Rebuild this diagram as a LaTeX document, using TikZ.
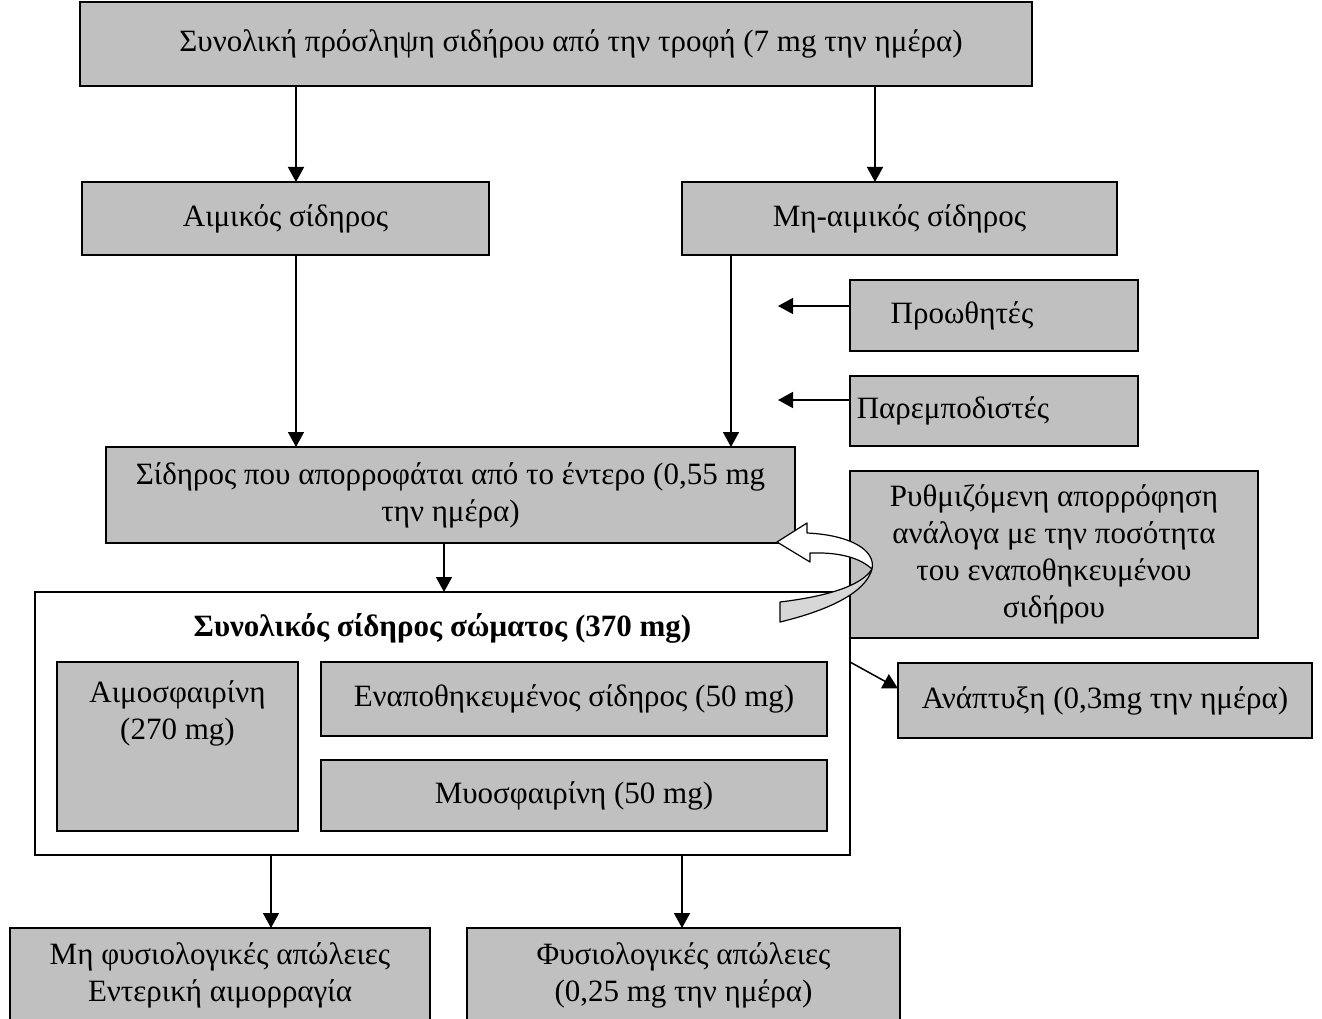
\documentclass[tikz,border=0pt]{standalone}
\usepackage{fontspec}
\setmainfont{Liberation Serif}
\usetikzlibrary{arrows.meta}
\definecolor{boxgray}{RGB}{192,192,192}
\definecolor{ribbongray}{RGB}{215,215,215}

\begin{document}
\begin{tikzpicture}[x=1pt,y=-1pt]
  \tikzset{BoxStyle/.style = {
    shape         = rectangle,
    draw          = black,
    fill          = boxgray,
    line width    = 2pt,
    text          = black,
    inner sep     = 3pt,
    outer sep     = 0pt,
    align         = center,
    font          = \fontsize{31}{37}\selectfont
    }
  }
  \tikzset{ArrowStyle/.style = {
    draw          = black,
    line width    = 1.5pt,
    -{Triangle[length=15pt,width=16pt]}
    }
  }
  \useasboundingbox (0,0) rectangle (1322,1019);

	\node[BoxStyle,minimum width=952pt,minimum height=84pt](Intake) at (556,44) {\hspace*{30pt}Συνολική πρόσληψη σιδήρου από την τροφή (7 mg την ημέρα)};
	\node[BoxStyle,minimum width=407pt,minimum height=73pt](Heme) at (285.5,218.5) {Αιμικός σίδηρος};
	\node[BoxStyle,minimum width=435pt,minimum height=73pt](NonHeme) at (899.5,218.5) {Μη-αιμικός σίδηρος};
	\node[BoxStyle,minimum width=288pt,minimum height=71pt](Prom) at (994,315.5) {\hspace*{-64pt}Προωθητές};
	\node[BoxStyle,minimum width=288pt,minimum height=70pt](Inhib) at (994,411) {\hspace*{-82pt}Παρεμποδιστές};
	\node[BoxStyle,minimum width=689pt,minimum height=96pt](Absorbed) at (450.5,495) {Σίδηρος που απορροφάται από το έντερο (0,55 mg\\την ημέρα)};
	\node[BoxStyle,minimum width=408pt,minimum height=167pt](Regul) at (1054,554.5) {Ρυθμιζόμενη απορρόφηση\\ανάλογα με την ποσότητα\\του εναποθηκευμένου\\σιδήρου};
	\node[BoxStyle,fill=white,minimum width=815pt,minimum height=263pt](Body) at (442.5,723.5) {};
	\node[BoxStyle,draw=none,fill=none,font=\fontsize{31}{37}\selectfont\bfseries](BodyTitle) at (442.5,628) {Συνολικός σίδηρος σώματος (370 mg)};
	\node[BoxStyle,minimum width=241pt,minimum height=169pt,
	      label={[BoxStyle,draw=none,fill=none,anchor=north,yshift=-16pt]north:Αιμοσφαιρίνη\\(270 mg)}](Hb) at (177.5,746.5) {};
	\node[BoxStyle,minimum width=506pt,minimum height=74pt](Stored) at (574,699) {Εναποθηκευμένος σίδηρος (50 mg)};
	\node[BoxStyle,minimum width=506pt,minimum height=71pt](Mb) at (574,795.5) {Μυοσφαιρίνη (50 mg)};
	\node[BoxStyle,minimum width=414pt,minimum height=75pt](Growth) at (1105,700.5) {Ανάπτυξη (0,3mg την ημέρα)};
	\node[BoxStyle,minimum width=420pt,minimum height=100pt,text depth=12pt](Abnormal) at (220,978) {Μη φυσιολογικές απώλειες\\Εντερική αιμορραγία};
	\node[BoxStyle,minimum width=433pt,minimum height=100pt,text depth=12pt](Normal) at (683.5,978) {Φυσιολογικές απώλειες\\(0,25 mg την ημέρα)};

	\coordinate (hemeX) at (296,0);
	\coordinate (nonhemeX) at (875,0);
	\coordinate (absX) at (731,0);
	\coordinate (bodyX) at (444,0);
	\coordinate (abnX) at (271,0);
	\coordinate (norX) at (682,0);
	\coordinate (promEnd) at (778,306);
	\coordinate (inhibEnd) at (778,400);

	\draw[ArrowStyle](Intake.south -| hemeX) to (Heme.north -| hemeX);
	\draw[ArrowStyle](Intake.south -| nonhemeX) to (NonHeme.north -| nonhemeX);
	\draw[ArrowStyle](Heme.south -| hemeX) to (Absorbed.north -| hemeX);
	\draw[ArrowStyle](NonHeme.south -| absX) to (Absorbed.north -| absX);
	\draw[ArrowStyle](Prom.west |- promEnd) to (promEnd);
	\draw[ArrowStyle](Inhib.west |- inhibEnd) to (inhibEnd);
	\draw[ArrowStyle](Absorbed.south -| bodyX) to (Body.north -| bodyX);
	\draw[ArrowStyle](Body.east |- Stored.north) to ([yshift=12pt]Growth.west);
	\draw[ArrowStyle](Body.south -| abnX) to (Abnormal.north -| abnX);
	\draw[ArrowStyle](Body.south -| norX) to (Normal.north -| norX);

%	feedback ribbon
	\draw[line width=1.2pt,fill=white,line join=round]
	  (777,542) -- (807,523) -- (807,533)
	  .. controls (850,535) and (876,550) .. (872,569)
	  .. controls (860,558) and (840,552) .. (810,553)
	  -- (810,562) -- cycle;
	\draw[line width=1.2pt,fill=ribbongray,line join=round]
	  (872,569) .. controls (866,592) and (830,610) .. (780,622)
	  -- (780,602) .. controls (830,596) and (862,585) .. (872,569) -- cycle;

  \end{tikzpicture}
\end{document}
